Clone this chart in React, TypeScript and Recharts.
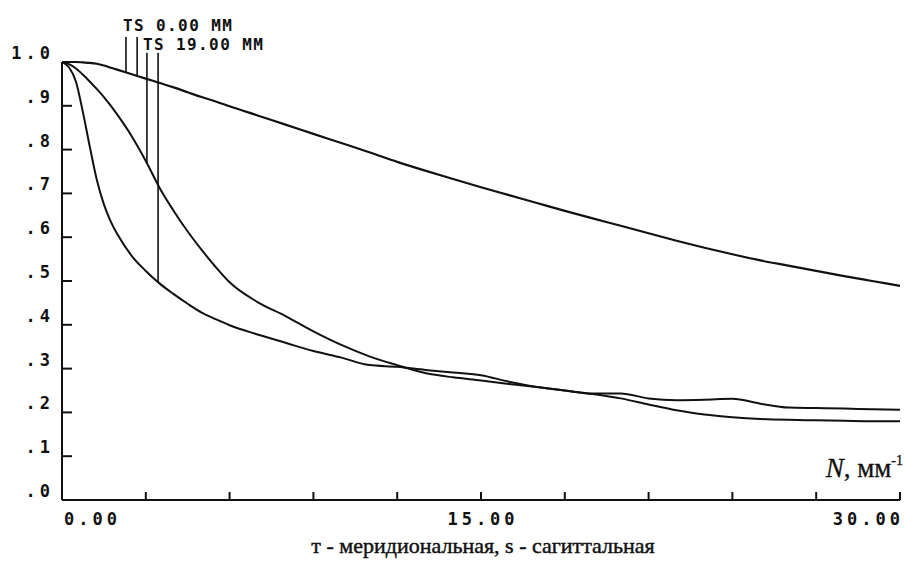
import React from 'react';
import { LineChart, Line, XAxis, YAxis, ReferenceLine } from 'recharts';

// spatial frequency N, mm^-1
const freq = [
  0, 0.25, 0.5, 0.75, 1, 1.25, 1.5, 1.75, 2,
  2.5, 3, 3.5, 4, 4.5, 5, 5.5, 6,
  7, 8, 9, 10, 11, 12, 13, 14, 15, 16, 17, 18, 19, 20, 21, 22, 23, 24, 25, 26, 27, 28, 29, 30,
];

// TS 0.00 mm (T and S coincide)
const onAxisTS = [
  1.0, 1.0, 1.0, 0.999, 0.998, 0.996, 0.992, 0.987, 0.982,
  0.972, 0.962, 0.952, 0.942, 0.931, 0.92, 0.91, 0.899,
  0.878, 0.857, 0.836, 0.815, 0.794, 0.772, 0.752, 0.733, 0.714, 0.696, 0.678, 0.66, 0.643, 0.626,
  0.609, 0.592, 0.576, 0.561, 0.547, 0.535, 0.523, 0.511, 0.5, 0.489,
];

// T 19.00 mm (meridional)
const field19T = [
  1.0, 0.995, 0.985, 0.971, 0.955, 0.938, 0.92, 0.9, 0.878,
  0.83, 0.774, 0.712, 0.66, 0.613, 0.571, 0.532, 0.497,
  0.452, 0.42, 0.385, 0.354, 0.328, 0.308, 0.29, 0.28, 0.273, 0.265, 0.258, 0.25, 0.242, 0.232,
  0.218, 0.205, 0.195, 0.189, 0.185, 0.183, 0.182, 0.181, 0.18, 0.18,
];

// S 19.00 mm (sagittal)
const field19S = [
  1.0, 0.988, 0.955, 0.885, 0.805, 0.73, 0.675, 0.635, 0.605,
  0.557, 0.523, 0.494, 0.47, 0.448, 0.428, 0.413, 0.399,
  0.378, 0.359, 0.34, 0.325, 0.308, 0.304, 0.297, 0.291, 0.285, 0.27, 0.258, 0.25, 0.243, 0.243,
  0.232, 0.228, 0.229, 0.231, 0.22, 0.211, 0.21, 0.209, 0.207, 0.206,
];

const xTicks = [0, 3, 6, 9, 12, 15, 18, 21, 24, 27, 30];
const xTickLabels = ['0.00', '', '', '', '', '15.00', '', '', '', '', '30.00'];
const yTicks = [0, 0.1, 0.2, 0.3, 0.4, 0.5, 0.6, 0.7, 0.8, 0.9, 1.0];
const yTickLabels = ['.0', '.1', '.2', '.3', '.4', '.5', '.6', '.7', '.8', '.9', '1.0'];

// leader lines of the field labels: frequency, curve value at the foot, top value
const leaderLabels = ['TS 0.00 MM', 'TS 19.00 MM'];
const leaderFreq = [[2.29, 2.69], [3.04, 3.44]];
const leaderFoot = [[0.976, 0.968], [0.769, 0.497]];
const leaderTop = [1.057, 1.021];

const titleText = 'т - меридиональная, s - сагиттальная';

const rows = freq.map((n, i) => ({
  n,
  onAxisTS: onAxisTS[i],
  field19T: field19T[i],
  field19S: field19S[i],
}));

const INK = '#111';
const MONO = '"DejaVu Sans Mono", monospace';
const SERIF = '"Liberation Serif", "DejaVu Serif", serif';

function XTick(props: any) {
  const { x, y, payload } = props;
  const v = payload.value;
  const label = xTickLabels[xTicks.indexOf(v)];
  let anchor: 'start' | 'middle' | 'end' = 'middle';
  let dx = 2;
  if (v === xTicks[0]) {
    anchor = 'start';
    dx = 2;
  } else if (v === xTicks[xTicks.length - 1]) {
    anchor = 'end';
    dx = 4;
  }
  return (
    <g>
      {v !== xTicks[0] && (
        <line x1={x} y1={y} x2={x} y2={y - 8} stroke={INK} strokeWidth={2} />
      )}
      {label && (
        <text
          x={x + dx}
          y={y + 25}
          textAnchor={anchor}
          fontFamily={MONO}
          fontWeight="bold"
          fontSize={17}
          letterSpacing={4}
          fill={INK}
        >
          {label}
        </text>
      )}
    </g>
  );
}

function YTick(props: any) {
  const { x, y, payload } = props;
  const v = payload.value;
  const idx = yTicks.indexOf(v);
  return (
    <g>
      {idx > 0 && idx < yTicks.length - 1 && (
        <line x1={x} y1={y} x2={x + 10} y2={y} stroke={INK} strokeWidth={2} />
      )}
      <text
        x={x - 8}
        y={y - 3}
        textAnchor="end"
        fontFamily={MONO}
        fontWeight="bold"
        fontSize={17}
        letterSpacing={4}
        fill={INK}
      >
        {yTickLabels[idx]}
      </text>
    </g>
  );
}

function AxisTexts(props: any) {
  const vb = props.viewBox || {};
  const cx = vb.x + vb.width / 2;
  const right = vb.x + vb.width;
  return (
    <g>
      <text
        x={cx + 2}
        y={vb.y + 53}
        textAnchor="middle"
        fontFamily={SERIF}
        fontSize={22}
        fill={INK}
        stroke={INK}
        strokeWidth={0.45}
      >
        {titleText}
      </text>
      <text
        x={right + 3}
        y={vb.y - 23}
        textAnchor="end"
        fontFamily={SERIF}
        fontSize={27}
        fill={INK}
        stroke={INK}
        strokeWidth={0.3}
      >
        <tspan fontStyle="italic">N</tspan>
        <tspan>, мм</tspan>
        <tspan fontSize={14} dy={-12}>-1</tspan>
      </text>
    </g>
  );
}

function LeaderText(props: any) {
  const vb = props.viewBox || {};
  const { text, dx, dy } = props;
  return (
    <text
      x={vb.x + dx}
      y={vb.y + dy}
      fontFamily={MONO}
      fontWeight="bold"
      fontSize={16}
      letterSpacing={1.4}
      fill={INK}
    >
      {text}
    </text>
  );
}

export default function App() {
  const labelOffsets = [
    { dx: -3, dy: -6 },
    { dx: -4, dy: -3 },
  ];
  return (
    <div style={{ position: 'absolute', left: 0, top: 0, width: 905, height: 562, background: '#fff' }}>
      <LineChart
        width={905}
        height={562}
        data={rows}
        margin={{ top: 62, right: 5, bottom: 2, left: 12 }}
      >
        <XAxis
          dataKey="n"
          type="number"
          domain={[0, 30]}
          ticks={xTicks}
          interval={0}
          height={60}
          tickLine={false}
          tickSize={0}
          tickMargin={0}
          tick={<XTick />}
          axisLine={{ stroke: INK, strokeWidth: 2 }}
          label={<AxisTexts />}
        />
        <YAxis
          type="number"
          domain={[0, 1]}
          ticks={yTicks}
          interval={0}
          width={50}
          tickLine={false}
          tickSize={0}
          tickMargin={0}
          tick={<YTick />}
          axisLine={{ stroke: INK, strokeWidth: 2 }}
        />
        {leaderLabels.map((lbl, g) =>
          leaderFreq[g].map((n, k) => (
            <ReferenceLine
              key={`${g}-${k}`}
              segment={[
                { x: n, y: leaderFoot[g][k] },
                { x: n, y: leaderTop[g] },
              ]}
              stroke={INK}
              strokeWidth={1.6}
              ifOverflow="visible"
              label={
                k === 0 ? (
                  <LeaderText text={lbl} dx={labelOffsets[g].dx} dy={labelOffsets[g].dy} />
                ) : undefined
              }
            />
          ))
        )}
        <Line
          dataKey="onAxisTS"
          type="monotone"
          stroke={INK}
          strokeWidth={2.2}
          dot={false}
          isAnimationActive={false}
        />
        <Line
          dataKey="field19T"
          type="monotone"
          stroke={INK}
          strokeWidth={2}
          dot={false}
          isAnimationActive={false}
        />
        <Line
          dataKey="field19S"
          type="monotone"
          stroke={INK}
          strokeWidth={2}
          dot={false}
          isAnimationActive={false}
        />
      </LineChart>
    </div>
  );
}
